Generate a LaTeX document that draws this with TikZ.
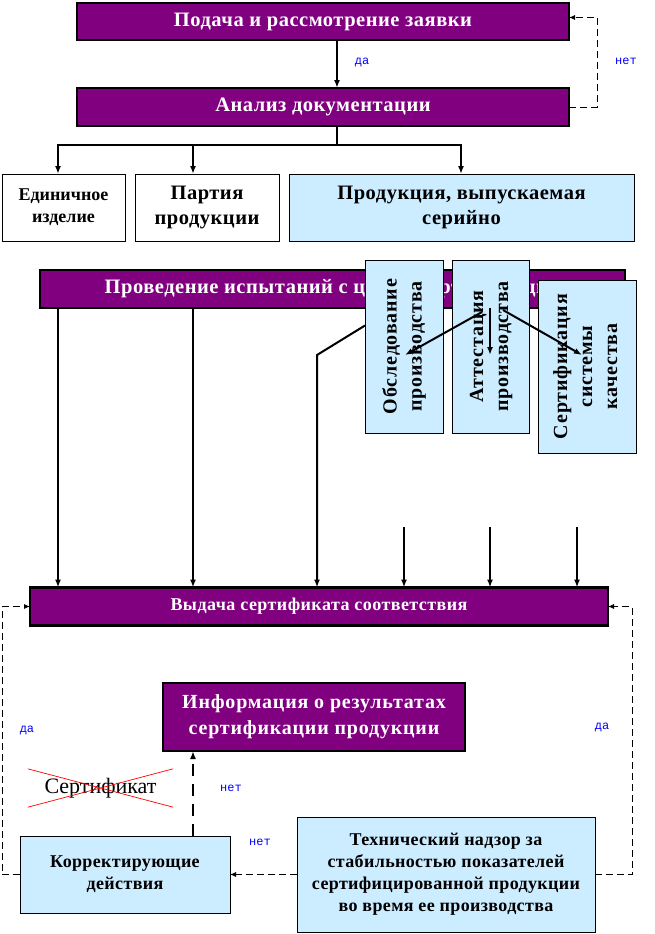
\documentclass[tikz,border=0pt]{standalone}
\usepackage{fontspec}
\setmainfont{Liberation Serif}
\newfontfamily\lblfont{Liberation Mono}
\newfontfamily\spA[LetterSpace=2.5]{Liberation Serif}
\newfontfamily\spB[LetterSpace=4]{Liberation Serif}
\newfontfamily\spC[LetterSpace=2]{Liberation Serif}
\usetikzlibrary{arrows.meta}
\definecolor{purp}{RGB}{128,0,128}
\definecolor{lblue}{RGB}{204,236,255}
\definecolor{lblcol}{RGB}{0,0,255}
\newcommand{\fs}[3]{#1\fontsize{#2}{#3}\selectfont\bfseries}
\tikzstyle{pbox}=[draw, line width=2.5pt, fill=purp, text=white, align=center, inner sep=0pt, outer sep=0pt]
\tikzstyle{bbox}=[draw, line width=0.8pt, fill=lblue, align=center, inner sep=0pt, outer sep=0pt]
\tikzstyle{wbox}=[draw, line width=0.8pt, fill=white, align=center, inner sep=0pt, outer sep=0pt]
\tikzstyle{lbl}=[text=lblcol, font=\lblfont\fontsize{12}{14}\selectfont, inner sep=0pt]
\tikzstyle{arr}=[line width=2pt, -{Latex[length=8pt,width=6pt]}]
\tikzstyle{dsh}=[line width=0.8pt, dash pattern=on 7pt off 4pt, -{Latex[length=6pt,width=5pt]}]
\tikzstyle{dshthick}=[line width=2.5pt, dash pattern=on 12pt off 8pt, -{Latex[length=8pt,width=6pt]}]
\newcommand{\vtext}[1]{\rotatebox{90}{\begin{tabular}{@{}c@{}}#1\end{tabular}}}

\begin{document}
\begin{tikzpicture}[x=1pt, y=-1pt]
\useasboundingbox (0,0) rectangle (655,934);
%columns
\coordinate (k1) at (58,0);
\coordinate (k2) at (193,0);
\coordinate (k3) at (317,0);
\coordinate (k4) at (404,0);
\coordinate (k5) at (490,0);
\coordinate (k6) at (577,0);
\coordinate (km) at (337,0);
\coordinate (kr) at (461,0);
\coordinate (l1) at (2,0);
\coordinate (r1) at (597,0);
\coordinate (r2) at (632,0);
\coordinate (br) at (0,145);
\coordinate (t4) at (0,527);
\coordinate (b3) at (317,355);
%top boxes
\node[pbox, minimum width=492, minimum height=37, font=\fs{\spA}{20.5}{23}] (pod) at (323,21.5) {Подача и рассмотрение заявки};
\node[pbox, minimum width=492, minimum height=38, font=\fs{\spA}{20.5}{23}] (anal) at (323,107) {Анализ документации};
\node[wbox, minimum width=123, minimum height=67, font=\fs{\rmfamily}{18}{22}] (ed) at (63.5,207.5) {Единичное\\изделие};
\node[wbox, minimum width=144, minimum height=67, font=\fs{\spA}{20.5}{25}] (part) at (207,207.5) {Партия\\продукции};
\node[bbox, minimum width=345, minimum height=67, font=\fs{\spA}{20.5}{25}] (ser) at (461.5,207.5) {Продукция, выпускаемая\\серийно};
%edges
\draw[arr] (pod.south -| km) -- (anal.north -| km);
\foreach \k/\n in {k1/ed, k2/part, kr/ser}{
	\draw[arr] (anal.south -| km) -- (km |- br) -| (\n.north -| \k);}
\draw[dsh] (anal.east) -- (anal.east -| r1) -- ([yshift=4]pod.east -| r1) -- ([yshift=4]pod.east);
\node[lbl] (da1) at (362,62) {да};
\node[lbl] (net1) at (626,61) {нет};
%tests
\node[pbox, minimum width=585, minimum height=38, font=\fs{\spA}{20.5}{23}] (isp) at (332.5,289) {Проведение испытаний с целью сертификации};
\node[pbox, minimum width=578, minimum height=38, font=\fs{\spA}{18}{21}] (vyd) at (319,606.5) {Выдача сертификата соответствия};
\foreach \k in {k1,k2}{
	\draw[arr] (isp.south -| \k) -- (vyd.north -| \k);}
\node[bbox, minimum width=78, minimum height=173, font=\fs{\spB}{20}{25}] (obs) at (404,346.5) {\vtext{Обследование\\производства}};
\node[bbox, minimum width=77, minimum height=173, font=\fs{\spB}{20}{25}] (att) at (490.5,346.5) {\vtext{Аттестация\\производства}};
\node[bbox, minimum width=98, minimum height=173, font=\fs{\spB}{20}{25}] (sks) at (587,366.5) {\vtext{Сертификация\\системы\\качества}};
\draw[line width=2pt, -{Latex[length=8pt,width=6pt]}] ([yshift=21]obs.west) -- (b3) -- (vyd.north -| b3);
\coordinate (a1) at (482,312);
\coordinate (a2) at (405,355);
\coordinate (a3) at (490,308);
\coordinate (a4) at (490,355);
\coordinate (a5) at (503,310);
\coordinate (a6) at (582,355);
\draw[arr] (a1) -- (a2);
\draw[arr] (a3) -- (a4);
\draw[arr] (a5) -- (a6);
\foreach \k in {k4,k5,k6}{
	\draw[arr] (\k |- t4) -- (vyd.north -| \k);}
%bottom
\node[pbox, minimum width=302, minimum height=68, font=\fs{\spB}{20}{26}] (inf) at (314,717) {Информация о результатах\\сертификации продукции};
\node[bbox, minimum width=210, minimum height=77, font=\fs{\spC}{18}{22}] (kor) at (125,874.5) {Корректирующие\\действия};
\node[bbox, minimum width=298, minimum height=115, font=\fs{\spC}{18}{22}] (teh) at (446,874.5) {Технический надзор за\\стабильностью показателей\\сертифицированной продукции\\во время ее производства};
\node[minimum width=145, minimum height=38, inner sep=0pt, font=\fontsize{22}{26}\selectfont] (sert) at (100.5,788) {Сертификат};
\draw[red, line width=0.7pt] (sert.north west) -- (sert.south east);
\draw[red, line width=0.7pt] (sert.south west) -- (sert.north east);
\draw[dshthick] (kor.north -| k2) -- (inf.south -| k2);
\draw[dsh] (teh.west) -- (kor.east);
\draw[dsh] (kor.west) -- (kor.west -| l1) -- (vyd.west -| l1) -- (vyd.west);
\draw[dsh] (teh.east) -- (teh.east -| r2) -- (vyd.east -| r2) -- (vyd.east);
\node[lbl] (da2) at (27,730) {да};
\node[lbl] (da3) at (602,727) {да};
\node[lbl] (net2) at (231,788) {нет};
\node[lbl] (net3) at (260,842) {нет};
\end{tikzpicture}
\end{document}
